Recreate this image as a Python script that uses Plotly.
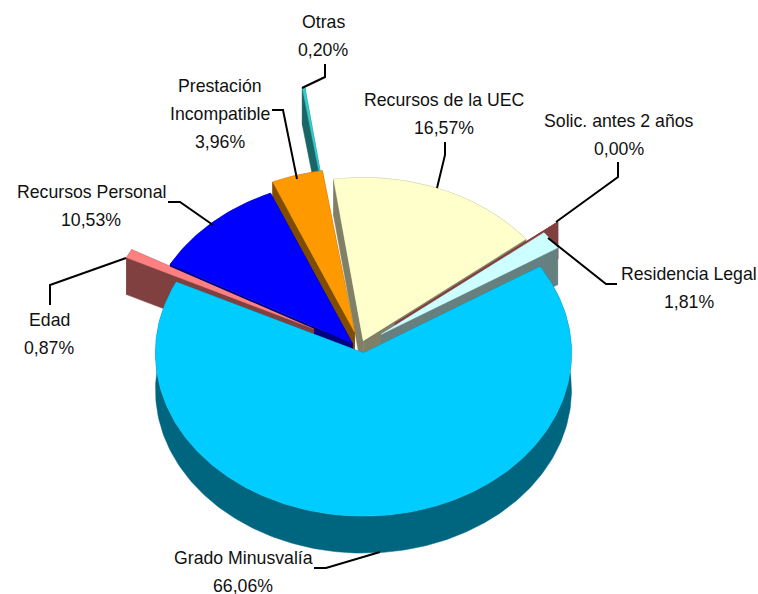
import math
import plotly.graph_objects as go

categories = ["Grado Minusvalía", "Edad", "Recursos Personal", "Prestación Incompatible",
              "Otras", "Recursos de la UEC", "Solic. antes 2 años", "Residencia Legal"]
values = [66.06, 0.87, 10.53, 3.96, 0.20, 16.57, 0.00, 1.81]
pulls = [9, 51, 10, 20, 125, 6, 46, 26]
nudge_x = [1, -3, -3, -2, -9, -1, -3, -2]
nudge_y = [1, 2, 4, 2, 1, 0, 1, 1]
top_colors = ["#00CCFF", "#FF8080", "#0000FF", "#FF9900", "#33CCCC", "#FFFFCC", "#993333", "#CCFFFF"]
wall_colors = ["#006680", "#804040", "#000080", "#804D00", "#1A6666", "#808066", "#804040", "#668080"]
value_labels = ["66,06%", "0,87%", "10,53%", "3,96%", "0,20%", "16,57%", "0,00%", "1,81%"]
label_lines = [["Grado Minusvalía"], ["Edad"], ["Recursos Personal"], ["Prestación", "Incompatible"],
               ["Otras"], ["Recursos de la UEC"], ["Solic. antes 2 años"], ["Residencia Legal"]]
label_x = [243, 49, 91, 220, 323, 444, 619, 689]
label_y = [558, 320, 192, 86, 22, 100, 121, 274]
leader_x = [[314, 326, 380], [50, 50, 126], [168, 180, 213], [272, 283, 297],
            [325, 325, 302], [445, 445, 437], [618, 618, 556], [617, 606, 548]]
leader_y = [[568, 568, 552], [305, 285, 258], [202, 202, 225], [110, 110, 179],
            [64, 77, 88], [142, 155, 188], [162, 177, 222], [284, 284, 238]]

START = 58.0
CX, CY = 362.0, 345.0
R, SQUASH, DEPTH = 208.0, 0.784, 37.0
LINE_GAP = 28


def spans():
    a = START
    out = []
    for v in values:
        b = a + v * 3.6
        out.append((a, b))
        a = b
    return out


def pt(ang, r, ox=0.0, oy=0.0):
    t = math.radians(ang)
    return ox + r * math.sin(t), oy - SQUASH * r * math.cos(t)


def apex(i):
    a, b = spans()[i]
    return pt((a + b) / 2, pulls[i], CX + nudge_x[i], CY + nudge_y[i])


def top_outline(i):
    a, b = spans()[i]
    ox, oy = apex(i)
    n = max(2, int((b - a) / 1.0))
    arc = [pt(a + (b - a) * k / n, R, ox, oy) for k in range(n + 1)]
    return (ox, oy), arc


def poly(points, color, name):
    return go.Scatter(x=[p[0] for p in points] + [points[0][0]],
                      y=[p[1] for p in points] + [points[0][1]],
                      mode="lines", fill="toself", fillcolor=color,
                      line=dict(color=color, width=0.5), hoverinfo="skip",
                      name=name, showlegend=False)


def wall_traces(i):
    o, arc = top_outline(i)
    down = lambda p: (p[0], p[1] + DEPTH)
    c = wall_colors[i]
    return [
        poly(arc + [down(p) for p in reversed(arc)], c, categories[i]),
        poly([o, arc[0], down(arc[0]), down(o)], c, categories[i]),
        poly([o, arc[-1], down(arc[-1]), down(o)], c, categories[i]),
    ]


def top_trace(i):
    o, arc = top_outline(i)
    return poly([o] + arc, top_colors[i], categories[i])


fig = go.Figure()
G, E, B, P, O, U, S, L = range(8)
for i in [O, U, S, L, P]:
    fig.add_traces(wall_traces(i))
    fig.add_trace(top_trace(i))
fig.add_traces(wall_traces(B))
fig.add_traces(wall_traces(E))
fig.add_trace(top_trace(E))
o_b, arc_b = top_outline(B)
fig.add_trace(go.Scatter(x=[o_b[0], arc_b[0][0]], y=[o_b[1] + 1.5, arc_b[0][1] + 1.5], mode="lines",
                         line=dict(color=wall_colors[B], width=1.5), hoverinfo="skip", showlegend=False))
fig.add_trace(top_trace(B))
fig.add_traces(wall_traces(G))
fig.add_trace(top_trace(G))

for lx, ly in zip(leader_x, leader_y):
    fig.add_trace(go.Scatter(x=lx, y=ly, mode="lines", line=dict(color="black", width=2),
                             hoverinfo="skip", showlegend=False))

for i, cat in enumerate(categories):
    for j, text in enumerate(label_lines[i] + [value_labels[i]]):
        fig.add_annotation(x=label_x[i], y=label_y[i] + j * LINE_GAP, text=text, showarrow=False,
                           xanchor="center", yanchor="middle",
                           font=dict(family="Liberation Sans", size=17.7, color="#111111"))

fig.update_xaxes(range=[0, 758], visible=False, fixedrange=True)
fig.update_yaxes(range=[594, 0], visible=False, fixedrange=True)
fig.update_layout(width=758, height=594, margin=dict(l=0, r=0, t=0, b=0),
                  paper_bgcolor="white", plot_bgcolor="white", showlegend=False)
fig.write_html("out.html", config={"displayModeBar": False},
               post_script="document.body.style.margin='0';document.documentElement.style.overflow='hidden';")
